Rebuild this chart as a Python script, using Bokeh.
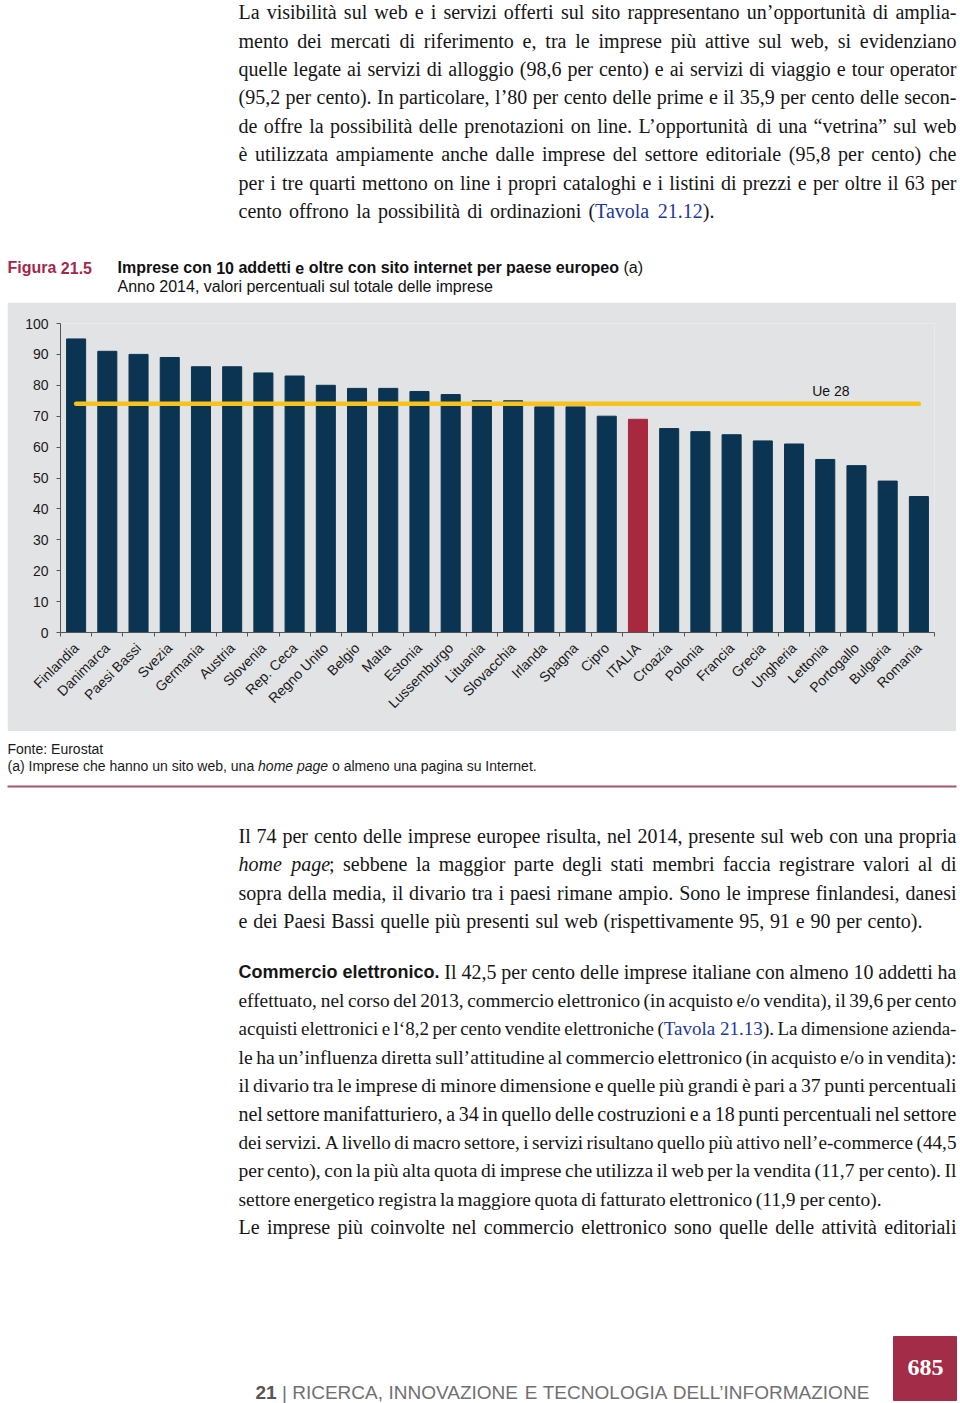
import math
import unicodedata
from bokeh.plotting import figure
from bokeh.models import Range1d, FixedTicker, ColumnDataSource, Label
from bokeh.embed import file_html
from bokeh.resources import INLINE

# ---------------- chart data ----------------
countries = ["Finlandia", "Danimarca", "Paesi Bassi", "Svezia", "Germania", "Austria",
             "Slovenia", "Rep. Ceca", "Regno Unito", "Belgio", "Malta", "Estonia",
             "Lussemburgo", "Lituania", "Slovacchia", "Irlanda", "Spagna", "Cipro",
             "ITALIA", "Croazia", "Polonia", "Francia", "Grecia", "Ungheria",
             "Lettonia", "Portogallo", "Bulgaria", "Romania"]
values = [95, 91, 90, 89, 86, 86, 84, 83, 80, 79, 79, 78, 77, 75, 75, 73, 73, 70,
          69, 66, 65, 64, 62, 61, 56, 54, 49, 44]
ue28 = 74
ue_label = "Ue 28"
highlight = "ITALIA"
y_ticks = [0, 10, 20, 30, 40, 50, 60, 70, 80, 90, 100]

fig_label = "Figura 21.5"
title_line = "^Imprese con 10 addetti e oltre con sito internet per paese europeo^ (a)"
subtitle_line = "Anno 2014, valori percentuali sul totale delle imprese"
note_lines = ["Fonte: Eurostat",
              "(a) Imprese che hanno un sito web, una *home page* o almeno una pagina su Internet."]

# ---------------- page text ----------------
block1 = [
    "La visibilità sul web e i servizi offerti sul sito rappresentano un’opportunità di amplia-",
    "mento dei mercati di riferimento e, tra le imprese più attive sul web, si evidenziano",
    "quelle legate ai servizi di alloggio (98,6 per cento) e ai servizi di viaggio e tour operator",
    "(95,2 per cento). In particolare, l’80 per cento delle prime e il 35,9 per cento delle secon-",
    "de offre la possibilità delle prenotazioni on line. L’opportunità di una “vetrina” sul web",
    "è utilizzata ampiamente anche dalle imprese del settore editoriale (95,8 per cento) che",
    "per i tre quarti mettono on line i propri cataloghi e i listini di prezzi e per oltre il 63 per",
    "cento offrono la possibilità di ordinazioni (#Tavola 21.12#).",
]
block2 = [
    "Il 74 per cento delle imprese europee risulta, nel 2014, presente sul web con una propria",
    "*home page*; sebbene la maggior parte degli stati membri faccia registrare valori al di",
    "sopra della media, il divario tra i paesi rimane ampio. Sono le imprese finlandesi, danesi",
    "e dei Paesi Bassi quelle più presenti sul web (rispettivamente 95, 91 e 90 per cento).",
]
block3 = [
    "^Commercio elettronico.^ Il 42,5 per cento delle imprese italiane con almeno 10 addetti ha",
    "effettuato, nel corso del 2013, commercio elettronico (in acquisto e/o vendita), il 39,6 per cento",
    "acquisti elettronici e l‘8,2 per cento vendite elettroniche (#Tavola 21.13#). La dimensione azienda-",
    "le ha un’influenza diretta sull’attitudine al commercio elettronico (in acquisto e/o in vendita):",
    "il divario tra le imprese di minore dimensione e quelle più grandi è pari a 37 punti percentuali",
    "nel settore manifatturiero, a 34 in quello delle costruzioni e a 18 punti percentuali nel settore",
    "dei servizi. A livello di macro settore, i servizi risultano quello più attivo nell’e-commerce (44,5",
    "per cento), con la più alta quota di imprese che utilizza il web per la vendita (11,7 per cento). Il",
    "settore energetico registra la maggiore quota di fatturato elettronico (11,9 per cento).",
    "Le imprese più coinvolte nel commercio elettronico sono quelle delle attività editoriali",
]
footer_line = "^21^ | RICERCA, INNOVAZIONE E TECNOLOGIA DELL’INFORMAZIONE"
page_number = "685"

# ---------------- styling ----------------
NAVY = "#0A3451"
CRIMSON = "#A8293F"
GOLD = "#F7C21B"
GREY_BG = "#E2E3E5"
TEXT = "#161616"
BLUE = "#22389C"
FIG_RED = "#A3294B"
RULE = "#A0566F"
W = 960
BASE_SHIFT = 0.31   # empirical correction of rendered baseline (in em)

# ---------------- font metrics (approx, per 1000 em) ----------------
TIMES = dict(zip("abcdefghijklmnopqrstuvwxyz",
                 [444, 500, 444, 500, 444, 333, 500, 500, 278, 278, 500, 278, 778, 500, 500, 500,
                  500, 333, 389, 278, 500, 500, 722, 500, 500, 444]))
TIMES.update(zip("ABCDEFGHIJKLMNOPQRSTUVWXYZ",
                 [722, 667, 667, 722, 611, 556, 722, 722, 333, 389, 722, 611, 889, 722, 722, 556,
                  722, 667, 556, 611, 722, 722, 944, 722, 722, 611]))
TIMES.update({d: 500 for d in "0123456789"})
TIMES.update({' ': 250, '.': 250, ',': 250, ';': 278, ':': 278, '(': 333, ')': 333, '-': 333,
              '/': 278, '’': 333, '‘': 333, '“': 444, '”': 444, "'": 180})
ARIAL = dict(zip("abcdefghijklmnopqrstuvwxyz",
                 [556, 556, 500, 556, 556, 278, 556, 556, 222, 222, 500, 222, 833, 556, 556, 556,
                  556, 333, 500, 278, 556, 500, 722, 500, 500, 500]))
ARIAL.update(zip("ABCDEFGHIJKLMNOPQRSTUVWXYZ",
                 [667, 667, 722, 722, 667, 611, 778, 722, 278, 500, 667, 556, 833, 722, 778, 667,
                  778, 722, 667, 611, 722, 667, 944, 667, 667, 611]))
ARIAL.update({d: 556 for d in "0123456789"})
ARIAL.update({' ': 278, '.': 278, ',': 278, ':': 278, ';': 278, '(': 333, ')': 333, '-': 333,
              '|': 260, '’': 222, '/': 278})
ARIAL_B = dict(zip("abcdefghijklmnopqrstuvwxyz",
                   [556, 611, 556, 611, 556, 333, 611, 611, 278, 278, 556, 278, 889, 611, 611, 611,
                    611, 389, 556, 333, 611, 556, 778, 556, 556, 500]))
ARIAL_B.update(zip("ABCDEFGHIJKLMNOPQRSTUVWXYZ",
                   [722, 722, 722, 722, 667, 611, 778, 722, 278, 556, 722, 611, 833, 722, 778, 667,
                    778, 722, 667, 611, 722, 667, 944, 667, 667, 611]))
ARIAL_B.update({d: 556 for d in "0123456789"})
ARIAL_B.update({' ': 278, '.': 278, ',': 278, ':': 333, '(': 333, ')': 333, '|': 280})


def char_w(ch, table):
    if ch in table:
        return table[ch]
    base = unicodedata.normalize("NFD", ch)[0]
    return table.get(base, 500)


def em_width(text, table):
    return sum(char_w(c, table) for c in text) / 1000.0


def parse(line):
    chars, style = [], set()
    marks = {"*": "i", "#": "c", "^": "b"}
    for ch in line:
        if ch in marks:
            style ^= {marks[ch]}
        else:
            chars.append((ch, frozenset(style)))
    words, cur = [], []
    for ch, st in chars:
        if ch == " ":
            if cur:
                words.append(cur)
                cur = []
        else:
            cur.append((ch, st))
    if cur:
        words.append(cur)
    out = []
    for w in words:
        groups = []
        for ch, st in w:
            if groups and groups[-1][1] == st:
                groups[-1][0] += ch
            else:
                groups.append([ch, st])
        out.append(groups)
    return out


def seg_info(st, fam):
    if fam == "serif":
        if "b" in st:
            return "Liberation Sans", "bold", ARIAL_B, 0.9
        if "i" in st:
            return "Liberation Serif", "italic", TIMES, 1.0
        return "Liberation Serif", "normal", TIMES, 1.0
    if "b" in st:
        return "Liberation Sans", "bold", ARIAL_B, 1.0
    if "i" in st:
        return "Liberation Sans", "italic", ARIAL, 1.0
    return "Liberation Sans", "normal", ARIAL, 1.0


def set_line(rows, line, x0, y, fam="serif", base=20.0, color=TEXT, width=None, min_gap=0.2,
             bold_color=None):
    words = parse(line)
    E = []
    for w in words:
        e = 0.0
        for text, st in w:
            _, _, table, fac = seg_info(st, fam)
            e += em_width(text, table) * fac
        E.append(e)
    total, n = sum(E), len(words)
    space = 0.25 if fam == "serif" else 0.278
    if width is None:
        s, gap = base, space * base
    else:
        s = min(base, width / (total + (n - 1) * min_gap))
        gap = (width - s * total) / (n - 1) if n > 1 else 0
    x = x0
    for w in words:
        for text, st in w:
            font, style, table, fac = seg_info(st, fam)
            rows["x"].append(x)
            rows["y"].append(y - BASE_SHIFT * s)
            rows["text"].append(text)
            rows["tfont"].append(font)
            rows["tsize"].append("%.2fpx" % (s * fac))
            rows["tstyle"].append(style)
            if "c" in st:
                c = BLUE
            elif "b" in st and bold_color:
                c = bold_color
            else:
                c = color
            rows["tcolor"].append(c)
            x += em_width(text, table) * fac * s
        x += gap


def new_rows():
    return {k: [] for k in ["x", "y", "text", "tfont", "tsize", "tstyle", "tcolor"]}


def text_fig(y_top, y_bottom):
    f = figure(width=W, height=y_bottom - y_top, x_range=Range1d(0, W),
               y_range=Range1d(y_bottom, y_top),
               x_axis_type=None, y_axis_type=None, min_border=0, output_backend="svg",
               toolbar_location=None, outline_line_color=None,
               background_fill_color="white", border_fill_color="white")
    f.grid.grid_line_color = None
    return f


def draw_rows(f, rows):
    f.text(x="x", y="y", text="text", source=ColumnDataSource(rows), text_font="tfont",
           text_font_size="tsize", text_font_style="tstyle", text_color="tcolor",
           text_align="left", text_baseline="alphabetic")


X0, FULL = 238, 718
TOP_A, TOP_B, TOP_C, BOTTOM = 0, 302, 731, 1403

# ---------------- top text figure ----------------
fa = text_fig(TOP_A, TOP_B)
ra = new_rows()
b1_widths = [FULL] * 7 + [476]
for k, (ln, wd) in enumerate(zip(block1, b1_widths)):
    set_line(ra, ln, X0, 17.8 + 28.4 * k, width=wd)
set_line(ra, "^" + fig_label + "^", 7, 272, fam="sans", base=16, color=FIG_RED)
set_line(ra, title_line, 117, 272, fam="sans", base=16, color="#111111")
set_line(ra, subtitle_line, 117, 290.5, fam="sans", base=16, color="#111111")
draw_rows(fa, ra)

# ---------------- chart figure (page x 7..956) ----------------
xs = [i + 0.5 for i in range(len(countries))]
bar_colors = [CRIMSON if c == highlight else NAVY for c in countries]
src = ColumnDataSource(dict(x=xs, top=values, color=bar_colors, country=countries))

fb = figure(width=949, height=TOP_C - TOP_B, x_range=Range1d(0, len(countries)),
            y_range=Range1d(0, 100), output_backend="svg", toolbar_location=None,
            min_border_left=53, min_border_right=22, min_border_top=21, min_border_bottom=99,
            background_fill_color=GREY_BG, border_fill_color=GREY_BG, outline_line_color=None)
fb.margin = (0, 4, 0, 7)
fb.vbar(x="x", top="top", bottom=0, width=0.61, color="color", source=src)
fb.line(x=[xs[0], xs[-1]], y=[ue28, ue28], line_color=GOLD, line_width=4.5, line_cap="round")
fb.add_layout(Label(x=countries.index("Lettonia") + 0.08, y=ue28 + 4.3, text=ue_label,
                    text_font="Liberation Sans", text_font_size="14px", text_color="#111111",
                    text_baseline="alphabetic"))
fb.grid.grid_line_color = None

xa = fb.xaxis[0]
xa.ticker = FixedTicker(ticks=xs, minor_ticks=list(range(len(countries) + 1)))
xa.major_label_overrides = {x: c for x, c in zip(xs, countries)}
xa.major_label_orientation = math.pi / 4
xa.major_tick_line_color = None
xa.major_tick_out = 4
xa.major_tick_in = 0
xa.minor_tick_line_color = "#555555"
xa.minor_tick_out = 4
xa.minor_tick_in = 0
xa.major_label_standoff = 9
xa.axis_line_color = "#555555"
xa.major_label_text_font = "Liberation Sans"
xa.major_label_text_font_size = "14px"
xa.major_label_text_color = "#1a1a1a"

ya = fb.yaxis[0]
ya.ticker = FixedTicker(ticks=y_ticks)
ya.minor_tick_line_color = None
ya.major_tick_out = 4
ya.major_tick_in = 0
ya.major_tick_line_color = "#555555"
ya.axis_line_color = "#555555"
ya.major_label_standoff = 8
ya.major_label_text_font = "Liberation Sans"
ya.major_label_text_font_size = "14px"
ya.major_label_text_color = "#1a1a1a"

# ---------------- bottom text figure ----------------
fc = text_fig(TOP_C, BOTTOM)
rc = new_rows()
set_line(rc, note_lines[0], 7, 753, fam="sans", base=14, color="#1a1a1a")
set_line(rc, note_lines[1], 7, 770, fam="sans", base=14, color="#1a1a1a")
fc.line(x=[7, 956], y=[786, 786], line_color=RULE, line_width=2)

b2_widths = [FULL] * 3 + [684]
for k, (ln, wd) in enumerate(zip(block2, b2_widths)):
    set_line(rc, ln, X0, 841.7 + 28.3 * k, width=wd)
b3_widths = [FULL] * 8 + [643, FULL]
for k, (ln, wd) in enumerate(zip(block3, b3_widths)):
    set_line(rc, ln, X0, 977.5 + 28.4 * k, width=wd, min_gap=0.18)

set_line(rc, footer_line, 255, 1398, fam="sans", base=30, color="#707070", width=615,
         min_gap=0.278, bold_color="#555555")
fc.quad(left=893, right=956, top=1336, bottom=1400, color="#A32C48")
fc.text(x=[925], y=[1367], text=[page_number], text_font="Liberation Sans",
        text_font_size="24px", text_font_style="bold", text_color="white",
        text_align="center", text_baseline="middle")
draw_rows(fc, rc)

open("out.html", "w").write(file_html([fa, fb, fc], INLINE))
